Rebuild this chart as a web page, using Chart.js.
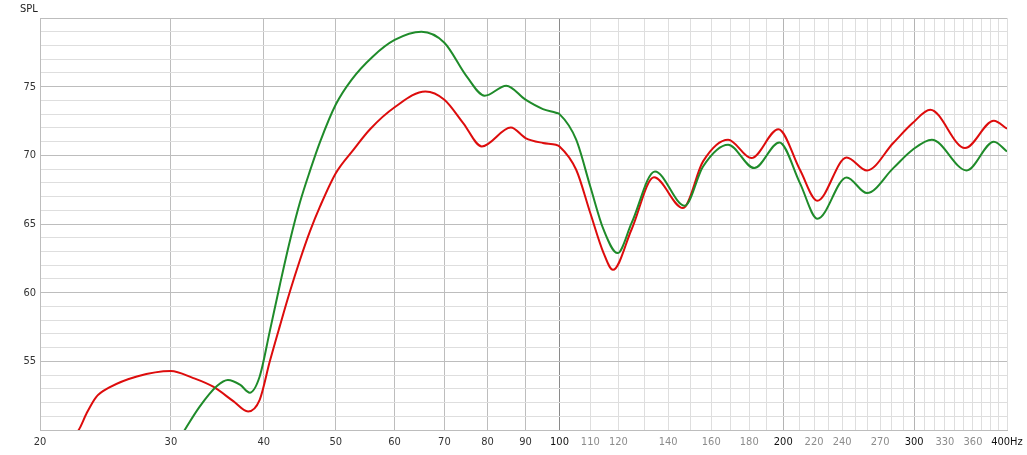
<!DOCTYPE html>
<html>
<head>
<meta charset="utf-8">
<script src="https://cdn.jsdelivr.net/npm/chart.js@4.4.1/dist/chart.umd.min.js"></script>
<style>
  html, body { margin: 0; padding: 0; background: #fff; }
  #wrap { position: relative; width: 1027px; height: 455px; }
  #spl { position: absolute; left: 20px; top: 2px; font: 11px 'DejaVu Sans Condensed', sans-serif; color: #222; }
</style>
</head>
<body>
<div id="wrap">
  <canvas id="splChart" width="1027" height="455"></canvas>
  <div id="spl">SPL</div>
</div>
<script>
// frequency response
const redFreq = [22.2, 22.6, 23.1, 23.8, 24.8, 27.0, 30.0, 32.1, 34.2, 36.4, 38.1, 39.5, 40.76, 42.06, 43.39, 44.76, 46.18, 47.64, 50, 52.8, 55.6, 60, 66, 70, 74.2, 78.6, 86, 90, 95, 98.9, 100, 105.3, 110, 114.6, 118, 125, 134, 146.6, 156, 168.6, 181.2, 197, 210.6, 222.2, 243.4, 259.2, 281.2, 298.6, 315.4, 351.2, 384, 400];
const redSpl = [49.5, 50.1, 51.2, 52.4, 53.1, 53.9, 54.3, 53.8, 53.15, 52.1, 51.35, 52.2, 55.0, 57.6, 60.1, 62.4, 64.5, 66.3, 68.7, 70.4, 71.9, 73.5, 74.65, 74.05, 72.35, 70.65, 72.03, 71.26, 70.9, 70.77, 70.65, 68.95, 65.8, 62.9, 61.66, 64.6, 68.4, 66.16, 69.56, 71.14, 69.8, 71.9, 68.95, 66.7, 69.85, 68.9, 70.9, 72.35, 73.32, 70.53, 72.52, 71.94];

const greenFreq = [30.9, 32.8, 34.6, 35.8, 37.2, 38.3, 39.5, 40.76, 42.06, 43.39, 44.76, 46.18, 47.64, 50, 52.5, 56.1, 60, 65.2, 70, 75, 79.3, 84.8, 90, 95, 98.9, 100, 105.3, 110, 114.6, 119.7, 125, 134.4, 147.4, 156, 168.6, 182.8, 197.6, 210.6, 222.4, 243.4, 259.2, 281.2, 298.6, 316.9, 353, 384, 400];
const greenSpl = [49.5, 51.7, 53.2, 53.64, 53.28, 52.72, 53.9, 57.2, 60.6, 63.8, 66.6, 68.9, 71.0, 73.7, 75.5, 77.2, 78.4, 79.0, 78.2, 75.75, 74.34, 75.07, 74.05, 73.37, 73.1, 73.0, 71.14, 67.73, 64.6, 62.88, 65.06, 68.83, 66.33, 69.19, 70.77, 69.07, 70.94, 67.98, 65.38, 68.39, 67.25, 69.07, 70.41, 71.14, 68.9, 70.99, 70.28];

const xGrid = [20, 30, 40, 50, 60, 70, 80, 90, 100, 110, 120, 130, 140, 150, 160, 170, 180, 190, 200, 210, 220, 230, 240, 250, 260, 270, 280, 290, 300, 310, 320, 330, 340, 350, 360, 370, 380, 390, 400];
const xLabels = [20, 30, 40, 50, 60, 70, 80, 90, 100, 110, 120, 140, 160, 180, 200, 220, 240, 270, 300, 330, 360, 400];
const yLabels = [55, 60, 65, 70, 75];

const FONT = "'DejaVu Sans Condensed', sans-serif";

function toPoints(fs, vs) {
    return fs.map((f, i) => ({ x: f, y: vs[i] }));
}

function xGridColor(v) {
    if (v === 100) return '#8a8a8a';
    if (v === 200 || v === 300) return '#b4b4b4';
    if (v < 100) return '#bdbdbd';
    return '#dedede';
}

function xLabelColor(v) {
    if (v === 100 || v === 200 || v === 300 || v === 400) return '#111';
    if (v < 100) return '#333';
    return '#8c8c8c';
}

const ctx = document.getElementById('splChart');

new Chart(ctx, {
    type: 'line',
    data: {
        datasets: [
            {
                label: 'green',
                data: toPoints(greenFreq, greenSpl),
                borderColor: '#1f8b2a',
                borderWidth: 2,
                pointRadius: 0,
                cubicInterpolationMode: 'monotone',
                fill: false
            },
            {
                label: 'red',
                data: toPoints(redFreq, redSpl),
                borderColor: '#dd0c0c',
                borderWidth: 2,
                pointRadius: 0,
                cubicInterpolationMode: 'monotone',
                fill: false
            }
        ]
    },
    options: {
        responsive: false,
        animation: false,
        events: [],
        layout: { padding: { top: 18, right: 20, left: 0, bottom: 0 } },
        plugins: {
            legend: { display: false },
            tooltip: { enabled: false }
        },
        scales: {
            x: {
                type: 'logarithmic',
                min: 20,
                max: 400,
                afterBuildTicks: (scale) => {
                    scale.ticks = xGrid.map(v => ({ value: v }));
                },
                afterFit: (scale) => {
                    scale.height = 25;
                    scale.paddingLeft = 0;
                    scale.paddingRight = 0;
                },
                border: { color: '#bdbdbd' },
                grid: {
                    drawTicks: false,
                    color: (c) => xGridColor(c.tick ? c.tick.value : 0)
                },
                ticks: {
                    autoSkip: false,
                    maxRotation: 0,
                    padding: 6,
                    font: { family: FONT, size: 11 },
                    color: (c) => xLabelColor(c.tick ? c.tick.value : 0),
                    callback: function (value) {
                        if (!xLabels.includes(value)) return '';
                        return value === 400 ? '400Hz' : String(value);
                    }
                }
            },
            y: {
                min: 50,
                max: 80,
                afterBuildTicks: (scale) => {
                    const t = [];
                    for (let v = 50; v <= 80; v++) t.push({ value: v });
                    scale.ticks = t;
                },
                afterFit: (scale) => {
                    scale.width = 40;
                    scale.paddingTop = 0;
                    scale.paddingBottom = 0;
                },
                border: { color: '#bdbdbd' },
                grid: {
                    drawTicks: false,
                    color: (c) => (c.tick && c.tick.value % 5 === 0) ? '#bdbdbd' : '#dedede'
                },
                ticks: {
                    autoSkip: false,
                    padding: 4,
                    font: { family: FONT, size: 11 },
                    color: '#333',
                    callback: (value) => yLabels.includes(value) ? String(value) : ''
                }
            }
        }
    }
});
</script>
</body>
</html>
